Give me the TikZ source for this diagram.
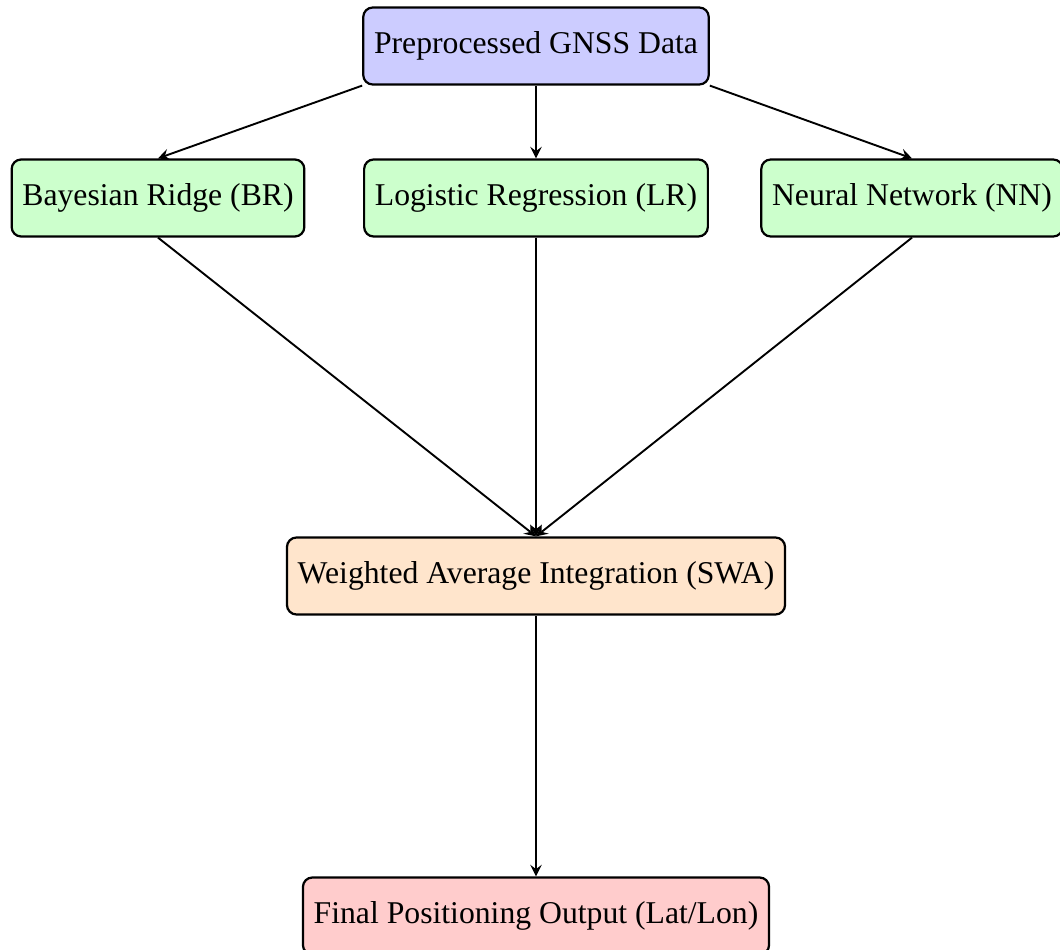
\documentclass[tikz,border=0pt]{standalone}
\usepackage{fontspec}
\setmainfont{Liberation Serif}
\begin{document}
\begin{tikzpicture}[x=0.3155pt,y=-0.3155pt,
  box/.style={draw, line width=0.7pt, rounded corners=3pt, minimum height=24.3pt,
    inner xsep=3.4pt, font=\fontsize{10}{12}\selectfont},
  inbox/.style={box, fill=blue!20},
  modelbox/.style={box, fill=green!20},
  mergebox/.style={box, fill=orange!20},
  outbox/.style={box, fill=red!20},
  flow/.style={-stealth, line width=0.6pt}]
\useasboundingbox (0,0) rectangle (1060,950);
\clip (0,0) rectangle (1060,950);
% input
\node[inbox] (gnss) at (536,46) {Preprocessed GNSS Data};
% the three models
\node[modelbox] (br) at (158,198) {Bayesian Ridge (BR)};
\node[modelbox] (lr) at (536,198) {Logistic Regression (LR)};
\node[modelbox] (nn) at (912,198) {Neural Network (NN)};
% fusion and output
\node[mergebox] (swa) at (536,576) {Weighted Average Integration (SWA)};
\node[outbox] (out) at (536,916) {Final Positioning Output (Lat/Lon)};
% connectors
\draw[flow] (gnss.south west) -- (br.north);
\draw[flow] (gnss.south) -- (lr.north);
\draw[flow] (gnss.south east) -- (nn.north);
\draw[flow] (br.south) -- (swa.north);
\draw[flow] (lr.south) -- (swa.north);
\draw[flow] (nn.south) -- (swa.north);
\draw[flow] (swa.south) -- (out.north);
\end{tikzpicture}
\end{document}
